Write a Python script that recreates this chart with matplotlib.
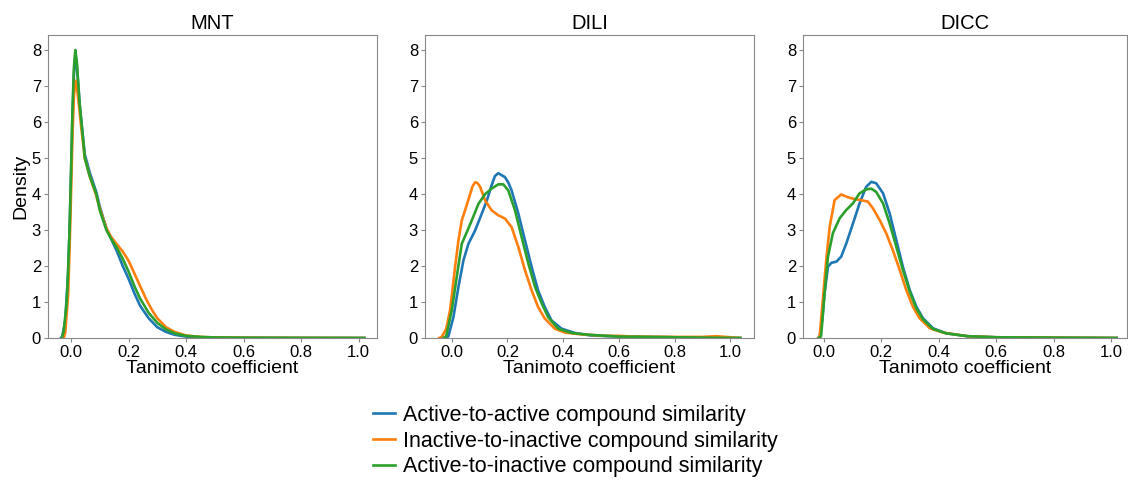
import matplotlib
matplotlib.use("Agg")
import matplotlib.pyplot as plt

plt.rcParams['font.family'] = ['Liberation Sans', 'DejaVu Sans']

# ---------------- Data ----------------
titles = ["MNT", "DILI", "DICC"]
labels = ["Active-to-active compound similarity",
          "Inactive-to-inactive compound similarity",
          "Active-to-inactive compound similarity"]
colors = ["#1f77b4", "#ff7f0e", "#2ca02c"]

# MNT
mnt_aa_x = [-0.035, -0.03, -0.02, -0.01, -0.005, 0.0, 0.005, 0.01, 0.015, 0.02, 0.03, 0.035, 0.048,
            0.065, 0.088, 0.1, 0.123, 0.14, 0.16, 0.18, 0.2, 0.22, 0.24, 0.27, 0.3, 0.33, 0.36, 0.4,
            0.45, 0.5, 0.6, 0.8, 1.02]
mnt_aa_y = [0.0, 0.05, 0.5, 1.8, 3.0, 4.5, 6.1, 7.3, 7.85, 7.6, 6.5, 6.1, 5.1,
            4.6, 4.05, 3.65, 3.05, 2.75, 2.4, 2.0, 1.65, 1.25, 0.9, 0.55, 0.3, 0.17, 0.09, 0.04,
            0.02, 0.01, 0.005, 0.002, 0.0]
mnt_ii_x = [-0.025, -0.02, -0.01, -0.005, 0.0, 0.005, 0.01, 0.015, 0.02, 0.03, 0.035, 0.048,
            0.065, 0.088, 0.1, 0.123, 0.14, 0.16, 0.18, 0.2, 0.22, 0.24, 0.26, 0.28, 0.3, 0.33,
            0.36, 0.4, 0.45, 0.5, 0.6, 0.8, 1.02]
mnt_ii_y = [0.0, 0.15, 1.2, 2.5, 4.0, 5.6, 6.7, 7.15, 7.0, 6.3, 5.9, 5.0,
            4.5, 3.95, 3.6, 3.05, 2.8, 2.6, 2.4, 2.15, 1.8, 1.45, 1.1, 0.8, 0.55, 0.3,
            0.17, 0.07, 0.03, 0.015, 0.008, 0.003, 0.0]
mnt_ai_x = [-0.032, -0.025, -0.015, -0.01, -0.005, 0.0, 0.005, 0.01, 0.015, 0.02, 0.03, 0.035,
            0.048, 0.065, 0.088, 0.1, 0.123, 0.14, 0.16, 0.18, 0.2, 0.22, 0.24, 0.27, 0.3, 0.33,
            0.36, 0.4, 0.45, 0.5, 0.6, 0.8, 1.02]
mnt_ai_y = [0.0, 0.2, 1.0, 1.9, 3.0, 4.6, 6.3, 7.5, 8.0, 7.7, 6.5, 6.1,
            5.0, 4.5, 4.0, 3.55, 3.0, 2.75, 2.5, 2.2, 1.85, 1.45, 1.1, 0.7, 0.42, 0.24,
            0.13, 0.06, 0.03, 0.015, 0.008, 0.003, 0.0]

# DILI
dili_aa_x = [-0.02, -0.012, 0.006, 0.024, 0.042, 0.06, 0.084, 0.108, 0.126, 0.143, 0.155, 0.167,
             0.18, 0.191, 0.203, 0.215, 0.239, 0.263, 0.287, 0.31, 0.334, 0.358, 0.394, 0.442,
             0.5, 0.6, 0.8, 1.036]
dili_aa_y = [0.0, 0.05, 0.58, 1.42, 2.16, 2.62, 2.99, 3.46, 3.82, 4.24, 4.5, 4.58,
             4.52, 4.47, 4.32, 4.1, 3.46, 2.71, 1.97, 1.32, 0.86, 0.49, 0.26, 0.14,
             0.07, 0.04, 0.02, 0.0]
dili_ii_x = [-0.045, -0.036, -0.02, -0.006, 0.012, 0.024, 0.036, 0.048, 0.066, 0.075, 0.084,
             0.093, 0.102, 0.12, 0.143, 0.167, 0.191, 0.215, 0.239, 0.263, 0.287, 0.31, 0.334,
             0.37, 0.406, 0.466, 0.55, 0.6, 0.65, 0.8, 0.9, 0.95, 1.0, 1.036]
dili_ii_y = [0.0, 0.03, 0.25, 0.77, 1.97, 2.71, 3.27, 3.55, 4.0, 4.22, 4.33,
             4.3, 4.2, 3.82, 3.55, 3.41, 3.32, 3.08, 2.53, 1.88, 1.32, 0.86, 0.54,
             0.26, 0.15, 0.1, 0.06, 0.06, 0.04, 0.03, 0.03, 0.05, 0.02, 0.0]
dili_ai_x = [-0.03, -0.02, 0.0, 0.018, 0.036, 0.054, 0.072, 0.096, 0.12, 0.143, 0.167, 0.185,
             0.203, 0.227, 0.251, 0.275, 0.299, 0.323, 0.346, 0.382, 0.43, 0.49, 0.6, 0.8, 1.036]
dili_ai_y = [0.0, 0.05, 0.77, 1.7, 2.62, 2.94, 3.27, 3.73, 4.0, 4.15, 4.27, 4.27,
             4.1, 3.55, 2.8, 2.07, 1.42, 0.96, 0.58, 0.26, 0.14, 0.09, 0.04, 0.02, 0.0]

# DICC
dicc_aa_x = [-0.02, -0.015, -0.006, 0.002, 0.014, 0.026, 0.043, 0.06, 0.078, 0.101, 0.124, 0.147,
             0.165, 0.182, 0.206, 0.229, 0.252, 0.275, 0.299, 0.322, 0.345, 0.38, 0.426, 0.5,
             0.6, 0.8, 1.02]
dicc_aa_y = [0.0, 0.05, 0.5, 1.24, 1.98, 2.09, 2.12, 2.26, 2.63, 3.18, 3.74, 4.2,
             4.34, 4.3, 4.02, 3.46, 2.72, 1.98, 1.33, 0.87, 0.55, 0.27, 0.13, 0.05,
             0.02, 0.01, 0.0]
dicc_ii_x = [-0.02, -0.015, -0.004, 0.008, 0.02, 0.037, 0.06, 0.084, 0.107, 0.13, 0.153, 0.171,
             0.194, 0.217, 0.24, 0.264, 0.287, 0.31, 0.333, 0.369, 0.415, 0.5, 0.6, 0.8, 1.02]
dicc_ii_y = [0.0, 0.05, 1.05, 2.17, 3.09, 3.83, 3.99, 3.91, 3.86, 3.83, 3.79, 3.6,
             3.28, 2.91, 2.44, 1.89, 1.33, 0.87, 0.55, 0.27, 0.15, 0.05, 0.02, 0.01, 0.0]
dicc_ai_x = [-0.018, -0.01, 0.002, 0.014, 0.031, 0.055, 0.078, 0.101, 0.124, 0.147, 0.165, 0.182,
             0.206, 0.229, 0.252, 0.275, 0.299, 0.322, 0.345, 0.38, 0.426, 0.5, 0.6, 0.8, 1.02]
dicc_ai_y = [0.0, 0.05, 1.24, 2.26, 2.91, 3.33, 3.56, 3.74, 4.02, 4.13, 4.15, 4.06,
             3.74, 3.18, 2.54, 1.89, 1.29, 0.82, 0.52, 0.25, 0.13, 0.05, 0.02, 0.01, 0.0]

curves = [
    [(mnt_aa_x, mnt_aa_y), (mnt_ii_x, mnt_ii_y), (mnt_ai_x, mnt_ai_y)],
    [(dili_aa_x, dili_aa_y), (dili_ii_x, dili_ii_y), (dili_ai_x, dili_ai_y)],
    [(dicc_aa_x, dicc_aa_y), (dicc_ii_x, dicc_ii_y), (dicc_ai_x, dicc_ai_y)],
]
xlims = [(-0.08, 1.064), (-0.096, 1.085), (-0.073, 1.056)]
ticks = [0.0, 0.2, 0.4, 0.6, 0.8, 1.0]

# ---------------- Plot ----------------
W, H = 1128, 480
fig = plt.figure(figsize=(W / 100, H / 100), dpi=100)
boxes = [(48, 329), (425, 329), (803, 324)]

for i, (left, width) in enumerate(boxes):
    ax = fig.add_axes([left / W, 1 - 338 / H, width / W, (338 - 35) / H])
    for (x, y), c, lab in zip(curves[i], colors, labels):
        ax.plot(x, y, color=c, lw=1.9, label=lab)
    ax.set_xlim(*xlims[i])
    ax.set_ylim(0, 8.42)
    ax.set_xticks(ticks)
    ax.set_xticklabels([f"{t:.1f}" for t in ticks])
    ax.set_yticks(range(9))
    ax.tick_params(labelsize=12, length=3, color="#888888", pad=2)
    for s in ax.spines.values():
        s.set_color("#888888")
    ax.set_title(titles[i], fontsize=14.5, pad=4)
    ax.set_xlabel("Tanimoto coefficient", fontsize=14, labelpad=0)
    if i == 0:
        ax.set_ylabel("Density", fontsize=14, labelpad=2)
        handles, labs = ax.get_legend_handles_labels()

fig.legend(handles, labs, loc="upper left", bbox_to_anchor=(373 / W, 1 - 405 / H),
           frameon=False, fontsize=15.5, handlelength=1.0, handletextpad=0.4,
           labelspacing=0.22, borderpad=0, borderaxespad=0)

fig.savefig("out.png", dpi=100)
